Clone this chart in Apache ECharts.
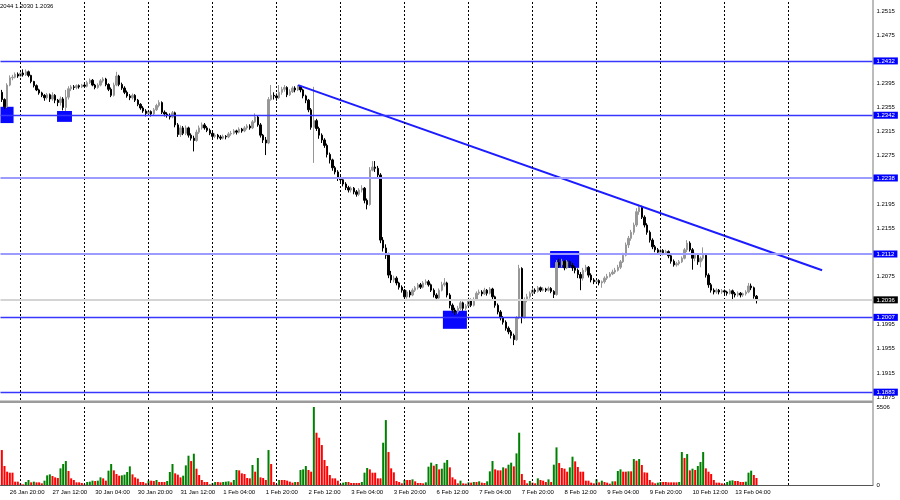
<!DOCTYPE html>
<html><head><meta charset="utf-8">
<script src="https://cdn.jsdelivr.net/npm/echarts@6/dist/echarts.min.js"></script>
<style>html,body{margin:0;padding:0;background:#fff}#c{width:900px;height:500px}</style>
</head><body><div id="c"></div>
<script>
// Hourly GBPUSD candles. Prices are stored in pips above 1.0000 (price = 1 + v / 10000).
const firstOpen = 2380;
const closes = [2368,2356,2392,2404,2405,2410,2407,2412,2409,2414,2408,2398,2391,2384,2379,2375,2371,2376,2369,2375,
2367,2363,2369,2355,2372,2386,2389,2388,2391,2389,2392,2390,2396,2400,2392,2388,2392,2399,2402,2393,
2385,2375,2392,2407,2393,2387,2380,2374,2371,2375,2367,2360,2354,2349,2345,2348,2344,2351,2358,2363,
2347,2344,2342,2339,2346,2326,2310,2321,2312,2321,2309,2304,2300,2314,2321,2326,2321,2317,2312,2307,
2309,2306,2304,2307,2306,2311,2312,2316,2314,2319,2316,2321,2324,2321,2331,2339,2326,2309,2301,2296,
2368,2375,2374,2371,2380,2385,2388,2376,2381,2387,2384,2390,2384,2374,2367,2351,2322,2333,2320,2309,
2301,2292,2277,2268,2255,2248,2238,2235,2228,2222,2218,2221,2215,2211,2218,2221,2201,2194,2251,2256,
2254,2243,2135,2122,2110,2077,2069,2072,2064,2057,2052,2041,2049,2044,2052,2056,2061,2057,2064,2066,
2061,2052,2044,2039,2052,2061,2064,2044,2027,2019,2016,2022,2031,2022,2026,2036,2027,2036,2047,2049,
2046,2052,2047,2054,2041,2027,2016,2006,1999,1989,1983,1977,1970,2006,2088,2008,2036,2041,2047,2052,
2050,2056,2052,2054,2052,2055,2050,2045,2098,2094,2100,2089,2099,2093,2089,2085,2078,2072,2085,2090,
2077,2069,2066,2068,2064,2066,2072,2075,2079,2082,2085,2090,2099,2110,2127,2138,2148,2160,2182,2189,
2173,2160,2148,2135,2124,2119,2115,2118,2114,2116,2109,2100,2094,2096,2099,2105,2119,2130,2119,2105,
2110,2099,2105,2110,2077,2061,2052,2049,2052,2049,2051,2049,2047,2051,2046,2044,2047,2044,2046,2049,
2059,2056,2042,2036];
const highs = [2384,2370,2395,2408,2409,2413,2413,2415,2418,2418,2416,2409,2399,2393,2386,2381,2377,2379,2378,2380,
2377,2369,2373,2372,2384,2390,2392,2392,2393,2393,2394,2395,2399,2403,2402,2394,2395,2402,2405,2404,
2395,2388,2396,2414,2409,2396,2390,2383,2377,2378,2377,2369,2362,2357,2352,2351,2350,2354,2361,2367,
2365,2350,2347,2345,2349,2348,2329,2325,2324,2325,2323,2312,2308,2318,2325,2330,2329,2324,2320,2315,
2312,2311,2309,2310,2309,2314,2316,2319,2318,2322,2321,2324,2327,2327,2334,2345,2341,2329,2311,2306,
2372,2392,2380,2378,2392,2389,2392,2390,2385,2390,2390,2392,2391,2386,2376,2369,2354,2389,2336,2323,
2312,2304,2295,2280,2270,2258,2251,2242,2238,2231,2225,2224,2223,2218,2221,2226,2223,2204,2256,2266,
2266,2258,2246,2140,2128,2114,2084,2076,2075,2066,2060,2054,2052,2052,2055,2059,2064,2064,2067,2070,
2069,2063,2055,2047,2055,2066,2072,2066,2047,2030,2023,2026,2036,2033,2029,2040,2038,2040,2050,2053,
2052,2056,2054,2057,2056,2043,2030,2019,2009,2002,1992,1986,1980,2009,2094,2090,2040,2046,2050,2056,
2055,2059,2058,2057,2056,2058,2057,2052,2102,2104,2104,2102,2102,2101,2097,2092,2088,2082,2089,2094,
2092,2080,2072,2071,2070,2068,2075,2079,2082,2086,2089,2094,2102,2114,2131,2142,2152,2164,2188,2194,
2192,2176,2163,2151,2138,2127,2122,2121,2120,2119,2118,2111,2103,2099,2102,2108,2122,2135,2133,2122,
2114,2113,2108,2123,2112,2080,2064,2055,2055,2054,2054,2053,2051,2054,2053,2049,2050,2049,2048,2052,
2064,2063,2058,2044];
const lows = [2364,2352,2354,2390,2400,2403,2404,2405,2406,2407,2405,2395,2388,2382,2376,2372,2366,2368,2364,2366,
2362,2357,2358,2350,2349,2368,2382,2384,2385,2386,2387,2387,2388,2394,2390,2385,2386,2390,2396,2390,
2382,2372,2373,2390,2390,2384,2377,2371,2367,2368,2364,2357,2351,2346,2340,2342,2340,2342,2349,2355,
2344,2340,2338,2335,2337,2322,2306,2306,2309,2309,2305,2300,2282,2298,2311,2318,2318,2314,2309,2304,
2304,2302,2301,2302,2302,2304,2308,2310,2310,2312,2313,2314,2318,2318,2319,2329,2323,2305,2296,2276,
2294,2366,2368,2366,2369,2376,2381,2372,2374,2379,2380,2382,2380,2370,2362,2347,2318,2263,2316,2303,
2296,2288,2272,2262,2250,2244,2233,2230,2224,2218,2214,2214,2211,2207,2208,2214,2196,2186,2192,2249,
2248,2238,2130,2116,2104,2072,2064,2065,2060,2053,2048,2035,2038,2040,2042,2049,2053,2054,2055,2061,
2058,2049,2040,2034,2037,2050,2058,2040,2022,2014,2011,2013,2019,2018,2019,2024,2024,2025,2034,2044,
2042,2044,2043,2045,2037,2023,2012,2002,1995,1985,1979,1972,1961,1968,2004,1997,2005,2032,2038,2044,
2046,2048,2049,2050,2049,2050,2047,2039,2043,2089,2090,2085,2087,2089,2084,2080,2072,2052,2068,2082,
2073,2065,2062,2063,2060,2056,2063,2069,2073,2077,2079,2083,2087,2097,2108,2122,2134,2144,2157,2177,
2170,2156,2144,2131,2120,2115,2111,2112,2110,2111,2105,2096,2091,2091,2093,2097,2103,2115,2116,2086,
2100,2094,2090,2101,2073,2056,2048,2045,2046,2045,2046,2045,2043,2045,2034,2040,2041,2040,2041,2043,
2047,2052,2038,2030];
// Tick volumes per bar
const volumes = [2468,1340,940,870,870,235,235,94,47,212,353,188,235,188,188,118,306,682,752,635,
541,494,1175,1481,1692,987,470,353,188,188,141,47,212,235,306,282,306,541,470,306,
1011,1481,1034,776,658,682,729,917,1316,752,541,447,212,212,118,306,306,282,353,212,
212,212,282,917,1481,823,729,541,658,1387,2068,1692,2209,1152,705,353,212,212,47,118,
212,212,188,212,235,259,188,353,1058,1034,823,776,494,470,1410,940,1904,541,494,353,
2468,1481,212,47,353,353,353,306,235,165,212,212,1058,1105,1340,1058,940,5506,3690,3337,
2820,1763,1340,705,470,470,306,71,165,212,212,141,141,141,141,212,870,1199,1105,870,
870,470,470,2985,4583,2327,1175,893,282,212,118,353,353,353,400,259,141,141,118,188,
1293,1575,1363,1481,
1105,1152,1575,1763,1246,541,400,118,306,118,94,188,165,212,212,259,165,141,259,964,
1692,1105,1034,1034,1246,1175,1434,1575,1316,2233,3690,776,353,118,282,165,118,470,353,306,
212,400,212,1434,2656,1551,1199,1152,940,1246,1998,1669,1269,940,940,306,306,165,118,400,
188,306,212,165,94,259,259,987,1105,940,940,964,964,1833,1716,1833,1410,893,870,353,
188,118,165,212,212,212,188,188,188,188,212,2327,1904,2186,1034,1152,1058,1340,1622,2327,
1175,940,776,353,165,165,118,71,212,306,329,282,282,212,212,235,870,1011,705,494];
const volumeMax = 5506;
// Time axis labels and the bars they belong to
const timeLabels = ['26 Jan 20:00','27 Jan 12:00','30 Jan 04:00','30 Jan 20:00','31 Jan 12:00','1 Feb 04:00',
'1 Feb 20:00','2 Feb 12:00','3 Feb 04:00','3 Feb 20:00','6 Feb 12:00','7 Feb 04:00','7 Feb 20:00',
'8 Feb 12:00','9 Feb 04:00','9 Feb 20:00','10 Feb 12:00','13 Feb 04:00'];
const timeLabelBars = [3,19,35,51,67,83,99,115,131,147,163,179,195,211,227,243,259,275];
const dayStartBars = [7,31,55,79,103,127,151,175,199,223,247,271,295];
const priceTicks = [1.1875,1.1915,1.1955,1.1995,1.2075,1.2155,1.2195,1.2275,1.2315,1.2355,1.2395,1.2475,1.2515];
const volumeTicks = [0,5506];
const levelPrices = [1.2432,1.2342,1.2238,1.2112,1.2007,1.1883];
const fiboText = '127.2';
const fiboPrice = 1.2112;
const lastPrice = 1.2036;
const trendline = [[111.1,1.2392],[307.6,1.2085]];
// zones: [barFrom, barTo, priceTop, priceBottom]
const zones = [[-0.5,4.4,1.2356,1.2329],[20.7,26.3,1.2349,1.2331],[165.4,174.4,1.2018,1.1988],[205.6,216.5,1.2117,1.2089]];
const headerText = '1.2044 1.2030 1.2036';
const totalSlots = 327;
const priceMin = 1.1870, priceMax = 1.2533;

const FONT = 'Liberation Sans, Arial, sans-serif';
const cats = Array.from({length: totalSlots}, (_, i) => String(i));
const candleData = closes.map((c, i) => {
  const o = i === 0 ? firstOpen : closes[i - 1];
  const h = Math.max(highs[i], o, c), l = Math.min(lows[i], o, c);
  return [o, c, l, h].map(v => +(1 + v / 10000).toFixed(4));
});
const volData = volumes.map((v, i) => ({
  value: v,
  itemStyle: {color: (i > 0 && v > volumes[i - 1]) ? '#008000' : '#ff0000'}
}));
const labelMap = new Map(timeLabelBars.map((b, i) => [b, timeLabels[i]]));

const tagLabel = (text, bg) => ({show: true, position: 'end', distance: 1, formatter: text, backgroundColor: bg,
  color: '#fff', fontSize: 6, fontFamily: FONT, padding: [1, 3, 0, 3], lineHeight: 6});
const levelLines = levelPrices.map((p, i) => {
  const light = (i === 2 || i === 3);
  return {
    yAxis: p,
    lineStyle: {color: light ? '#9c9cff' : '#3636ff', width: light ? 2 : 1.3, type: 'solid', opacity: 1},
    label: tagLabel(p.toFixed(4), '#0000ff')
  };
});
levelLines.push({
  yAxis: lastPrice,
  lineStyle: {color: '#d4d4d4', width: 2, type: 'solid', opacity: 1},
  label: tagLabel(lastPrice.toFixed(4), '#000')
});
levelLines.push({
  yAxis: fiboPrice,
  lineStyle: {opacity: 0},
  label: {show: true, position: 'insideEndTop', distance: 1, formatter: fiboText, color: '#7d7dff',
    fontSize: 6, fontFamily: FONT}
});

const dayLineStyle = {color: '#000', width: 1, type: [2, 2]};
const chart = echarts.init(document.getElementById('c'), null, {renderer: 'canvas'});
chart.setOption({
  animation: false,
  backgroundColor: '#fff',
  grid: [
    {left: 0.5, top: 0, width: 872, height: 400},
    {left: 0.5, top: 407, width: 872, height: 78}
  ],
  xAxis: [
    {type: 'category', gridIndex: 0, data: cats, boundaryGap: true, show: false},
    {type: 'category', gridIndex: 1, data: cats, boundaryGap: true,
      axisLine: {show: true, lineStyle: {color: '#555', width: 1}}, axisTick: {show: false},
      splitLine: {show: false},
      axisLabel: {interval: (idx) => labelMap.has(idx), formatter: (v, idx) => labelMap.get(idx) || '',
        fontSize: 6, fontFamily: FONT, color: '#000', align: 'left', margin: 4}},
    {type: 'value', gridIndex: 0, min: -0.5, max: totalSlots - 0.5, show: false},
    {type: 'value', gridIndex: 1, min: -0.5, max: totalSlots - 0.5, show: false}
  ],
  yAxis: [
    {type: 'value', gridIndex: 0, position: 'right', min: priceMin, max: priceMax, splitLine: {show: false},
      axisLine: {show: false}, axisTick: {show: false},
      axisLabel: {customValues: priceTicks, formatter: v => v.toFixed(4), fontSize: 6, fontFamily: FONT, color: '#000', margin: 4}},
    {type: 'value', gridIndex: 1, position: 'right', min: 0, max: volumeMax, splitLine: {show: false},
      axisLine: {show: false}, axisTick: {show: false},
      axisLabel: {customValues: volumeTicks, formatter: v => String(v), fontSize: 6, fontFamily: FONT, color: '#000', margin: 4}}
  ],
  series: [
    {type: 'line', name: 'zones', xAxisIndex: 2, yAxisIndex: 0, data: [], z: 1, silent: true,
      markArea: {silent: true, itemStyle: {color: '#0808ff', opacity: 1, borderWidth: 0}, label: {show: false},
        data: zones.map(z => [{coord: [z[0], z[2]]}, {coord: [z[1], z[3]]}])},
      markLine: {silent: true, precision: 4, symbol: ['none', 'none'], label: {show: false}, lineStyle: dayLineStyle,
        data: dayStartBars.map(b => ({xAxis: b}))}},
    {type: 'candlestick', name: 'GBPUSD', xAxisIndex: 0, yAxisIndex: 0, data: candleData, z: 2,
      barWidth: 1.6,
      itemStyle: {color: '#979797', color0: '#000', borderColor: '#979797', borderColor0: '#000', borderWidth: 1}},
    {type: 'line', name: 'levels', xAxisIndex: 2, yAxisIndex: 0, data: trendline, z: 4, clip: false, silent: true,
      symbol: 'none', color: '#1c1cff', lineStyle: {color: '#1c1cff', width: 2},
      markLine: {silent: true, precision: 4, symbol: ['none', 'none'], data: levelLines}},
    {type: 'bar', name: 'Volumes', xAxisIndex: 1, yAxisIndex: 1, data: volData, barWidth: 2, z: 2},
    {type: 'line', name: 'vgrid', xAxisIndex: 3, yAxisIndex: 1, data: [], z: 1, silent: true,
      markLine: {silent: true, precision: 4, symbol: ['none', 'none'], label: {show: false}, lineStyle: dayLineStyle,
        data: dayStartBars.map(b => ({xAxis: b}))}}
  ],
  graphic: [
    {type: 'text', left: -5, top: 3, style: {text: headerText, fontSize: 6, fontFamily: FONT, fill: '#000'}},
    {type: 'rect', shape: {x: 0, y: 400.5, width: 873, height: 2.5}, style: {fill: '#9c9c9c'}, silent: true},
    {type: 'line', shape: {x1: 873, y1: 0, x2: 873, y2: 486}, style: {stroke: '#a6a6a6', lineWidth: 1.5}, silent: true}
  ]
});
</script></body></html>
